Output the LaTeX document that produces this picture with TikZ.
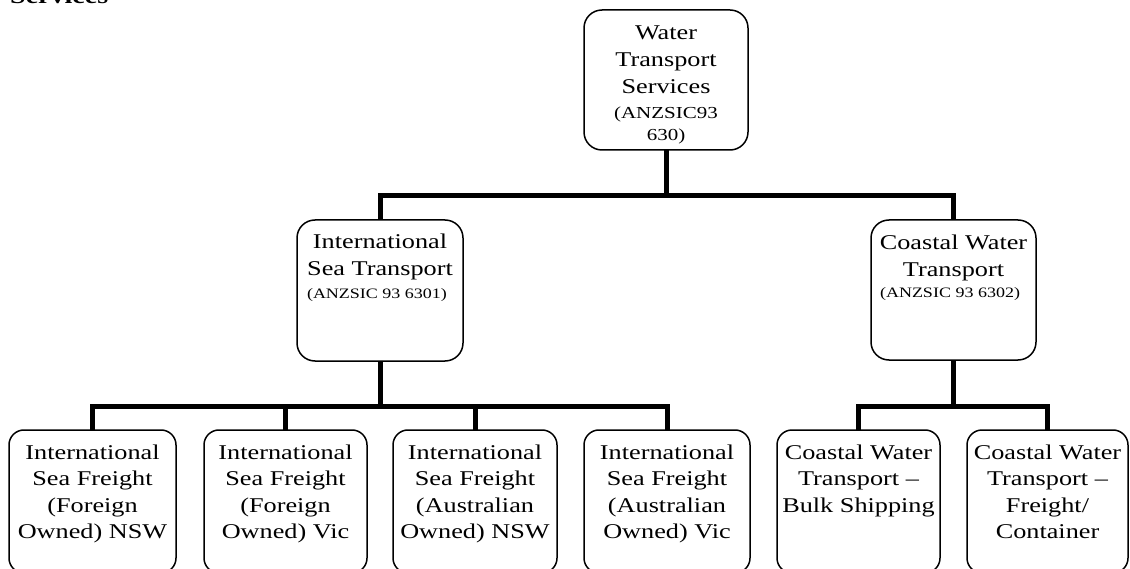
\documentclass[tikz,border=0pt]{standalone}
\usepackage{fontspec}
\setmainfont[FakeStretch=1.25]{Liberation Serif}
\begin{document}
\begin{tikzpicture}[x=1pt,y=1pt,
  box/.style={draw=black, line width=1.5pt, rounded corners=15pt, inner sep=0pt, outer sep=0pt},
  bigbox/.style={box, rounded corners=18pt},
  conn/.style={draw=black, line width=5pt, line join=miter},
  leaftext/.style={font=\fontsize{21}{26.5}\selectfont, align=center, inner sep=0pt, anchor=north},
  maintext/.style={font=\fontsize{21}{27}\selectfont, align=center, inner sep=0pt, anchor=north},
  codetext/.style={font=\fontsize{14.4}{18}\selectfont, inner sep=0pt, anchor=base},
  topcode/.style={font=\fontsize{16.8}{22}\selectfont, align=center, inner sep=0pt, anchor=north}
]
\useasboundingbox (0,0) rectangle (1130,-569);

% heading fragment at the top edge
\node[font=\fontsize{22.4}{26}\selectfont\bfseries, inner sep=0pt, anchor=base west] (hdr) at (10,-4) {Services};

% boxes
\node[bigbox, minimum width=164pt, minimum height=140pt] (top) at (666,-80) {};
\node[bigbox, minimum width=166pt, minimum height=141pt] (ist) at (380,-290.5) {};
\node[bigbox, minimum width=165pt, minimum height=140pt] (cwt) at (953.5,-290) {};
\node[box, minimum width=167pt, minimum height=143pt] (l1) at (92.5,-501.5) {};
\node[box, minimum width=163pt, minimum height=143pt] (l2) at (285.5,-501.5) {};
\node[box, minimum width=164pt, minimum height=143pt] (l3) at (475,-501.5) {};
\node[box, minimum width=166pt, minimum height=143pt] (l4) at (667,-501.5) {};
\node[box, minimum width=163pt, minimum height=143pt] (c1) at (858.5,-501.5) {};
\node[box, minimum width=161pt, minimum height=143pt] (c2) at (1047.5,-501.5) {};

% texts
\node[maintext] (topt) at (666,-20.1) {\strut Water\\Transport\\Services};
\node[topcode] (topc) at (666,-102.6) {\strut(ANZSIC93\\630)};
\node[maintext] (istt) at (380,-229.1) {\strut International\\Sea Transport};
\node[codetext] (istc) at (377,-299) {(ANZSIC 93 6301)};
\node[maintext] (cwtt) at (953.5,-230.1) {\strut Coastal Water\\Transport};
\node[codetext] (cwtc) at (950,-298) {(ANZSIC 93 6302)};
\node[leaftext] (l1t) at (92.5,-440.45) {\strut International\\Sea Freight\\(Foreign\\Owned) NSW};
\node[leaftext] (l2t) at (285.5,-440.45) {\strut International\\Sea Freight\\(Foreign\\Owned) Vic};
\node[leaftext] (l3t) at (475,-440.45) {\strut International\\Sea Freight\\(Australian\\Owned) NSW};
\node[leaftext] (l4t) at (667,-440.45) {\strut International\\Sea Freight\\(Australian\\Owned) Vic};
\node[leaftext] (c1t) at (858.5,-440.45) {\strut Coastal Water\\Transport --\\Bulk Shipping};
\node[leaftext] (c2t) at (1047.5,-440.45) {\strut Coastal Water\\Transport --\\Freight/\\Container};

% connector levels
\coordinate (b1) at (0,-196);
\coordinate (b2) at (0,-406);

\draw[conn] (top.south) -- (top.south |- b1) -| (ist.north);
\draw[conn] (top.south |- b1) -| (cwt.north);

\draw[conn] (ist.south) -- (ist.south |- b2);
\draw[conn] (l1.north) |- (l4.north |- b2) -- (l4.north);
\draw[conn] (l2.north) -- (l2.north |- b2);
\draw[conn] (l3.north) -- (l3.north |- b2);

\draw[conn] (cwt.south) -- (cwt.south |- b2);
\draw[conn] (c1.north) |- (c2.north |- b2) -- (c2.north);
\end{tikzpicture}
\end{document}
